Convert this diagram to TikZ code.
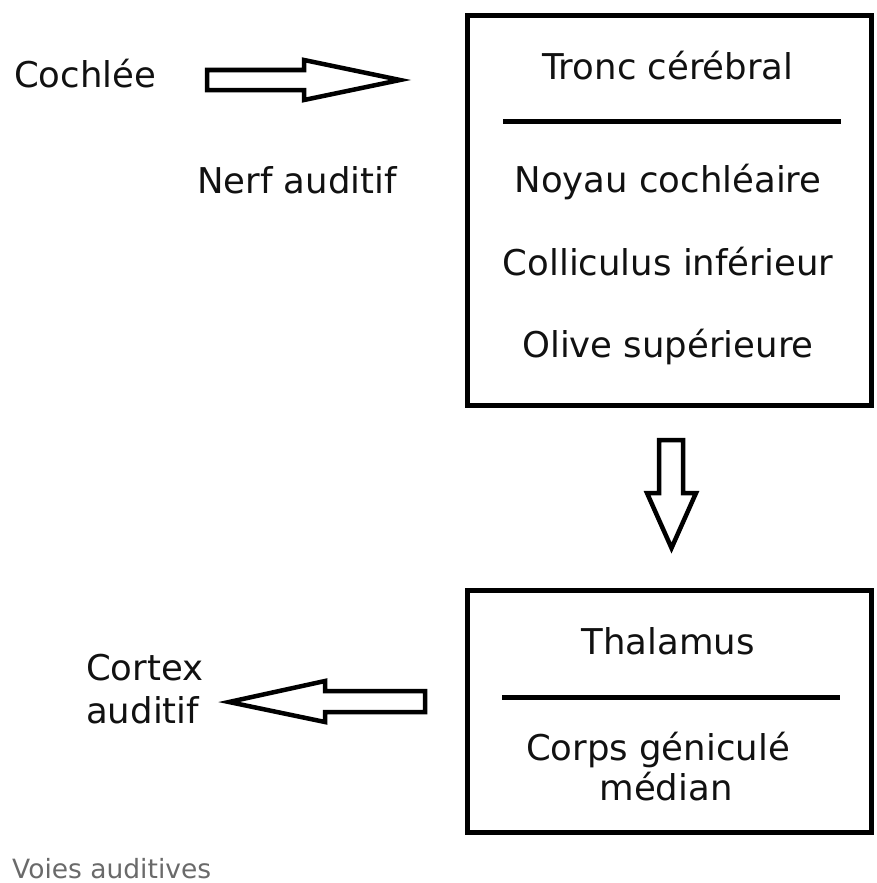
\documentclass[tikz,border=0pt]{standalone}
\usepackage{fontspec}
\setmainfont{DejaVu Sans}
\definecolor{captiongrey}{HTML}{6A6A6A}
\definecolor{ink}{HTML}{111111}
\begin{document}
\begin{tikzpicture}[x=1pt,y=-1pt,
  lbl/.style={anchor=base,inner sep=0pt,text=ink,font=\fontsize{35.5}{40}\selectfont},
  lblw/.style={anchor=base west,inner sep=0pt,text=ink,font=\fontsize{35.5}{40}\selectfont},
  box/.style={draw,line width=5pt,inner sep=0pt},
  sep/.style={line width=5pt},
  blockarrow/.style={draw,line width=4.5pt,line join=miter,fill=white}]
\useasboundingbox (0,0) rectangle (876,883);
% boxes
\node[box,minimum width=404pt,minimum height=390pt] (tronc) at (669.5,210.5) {};
\node[box,minimum width=404pt,minimum height=242pt] (thal) at (669.5,711.5) {};
% separators
\coordinate (s1a) at (503,121); \coordinate (s1b) at (841,121);
\coordinate (s2a) at (502,697); \coordinate (s2b) at (840,697);
\draw[sep] (s1a) -- (s1b);
\draw[sep] (s2a) -- (s2b);
% texts in top box
\node[lbl] (t1) at (668,80) {Tronc cérébral};
\node[lbl] (t2) at (668,192) {Noyau cochléaire};
\node[lbl] (t3) at (668,275) {Colliculus inférieur};
\node[lbl] (t4) at (668,357) {Olive supérieure};
% texts in bottom box
\node[lbl] (b1) at (668,654) {Thalamus};
\node[lbl] (b2) at (658,760) {Corps géniculé};
\node[lbl] (b3) at (666,800) {médian};
% outside labels
\node[lblw] (cochlee) at (14,87) {Cochlée};
\node[lblw] (nerf) at (197,193) {Nerf auditif};
\node[lblw] (cortex1) at (86,680) {Cortex};
\node[lblw] (cortex2) at (86,723) {auditif};
\node[anchor=base west,inner sep=0pt,text=captiongrey,font=\fontsize{26.5}{30}\selectfont] (caption) at (12,878) {Voies auditives};
% block arrows
\draw[blockarrow] (207,70) -- (304,70) -- (304,60) -- (400,80) -- (304,100) -- (304,90) -- (207,90) -- cycle;
\draw[blockarrow] (659,440) -- (683,440) -- (683,493) -- (696,493) -- (671.5,548) -- (647,493) -- (659,493) -- cycle;
\draw[blockarrow] (425,691) -- (325,691) -- (325,681) -- (229,702) -- (325,722) -- (325,712) -- (425,712) -- cycle;
\end{tikzpicture}
\end{document}
